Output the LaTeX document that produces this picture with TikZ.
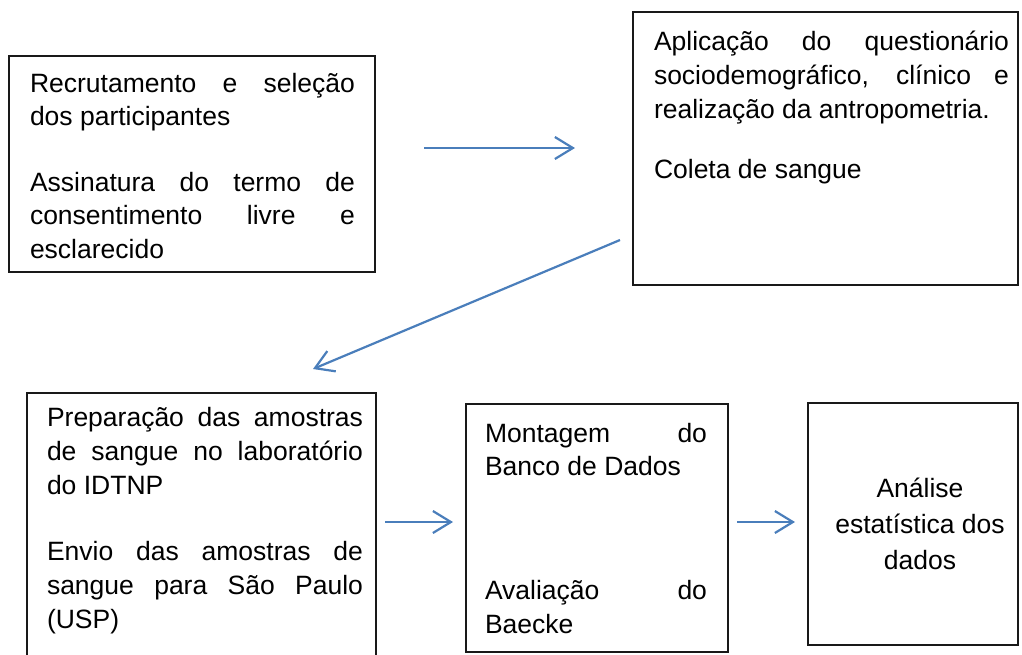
\documentclass[tikz,border=0pt]{standalone}
\usepackage{fontspec}
\setmainfont{Liberation Sans}
\usetikzlibrary{arrows.meta}
\definecolor{arrblue}{HTML}{4A7EBB}
\newcommand\jline[2]{\makebox[#1][s]{#2}}
\tikzset{
  box/.style={draw=black!90, line width=1.3pt, fill=none, inner sep=0pt, outer sep=0pt, anchor=north west},
  txt/.style={inner sep=0pt, outer sep=0pt, anchor=base west, font=\fontsize{26.5}{34}\selectfont},
  ctxt/.style={inner sep=0pt, outer sep=0pt, anchor=base, font=\fontsize{26.5}{34}\selectfont},
  arr/.style={draw=arrblue, line width=2.2pt, -{Straight Barb[length=18pt,width=22pt,line width=2.2pt]}}
}
\begin{document}
\begin{tikzpicture}[x=1pt,y=-1pt]
\useasboundingbox (0,0) rectangle (1022,654);
% boxes
\node[box, minimum width=366pt, minimum height=216pt] (b1) at (9,56) {};
\node[box, minimum width=385pt, minimum height=273pt] (b2) at (633,12) {};
\node[box, minimum width=349pt, minimum height=270pt] (b3) at (27,393) {};
\node[box, minimum width=262pt, minimum height=248pt] (b4) at (466,404) {};
\node[box, minimum width=210pt, minimum height=242pt] (b5) at (808,403) {};
% box 1 text
\node[txt] (t11) at (30,92) {\jline{325pt}{Recrutamento e seleção}};
\node[txt] (t12) at (30,125) {dos participantes};
\node[txt] (t13) at (30,191) {\jline{325pt}{Assinatura do termo de}};
\node[txt] (t14) at (30,224) {\jline{325pt}{consentimento livre e}};
\node[txt] (t15) at (30,258) {esclarecido};
% box 2 text
\node[txt] (t21) at (654,50) {\jline{355pt}{Aplicação do questionário}};
\node[txt] (t22) at (654,84) {\jline{355pt}{sociodemográfico, clínico e}};
\node[txt] (t23) at (654,118) {realização da antropometria.};
\node[txt] (t24) at (654,178) {Coleta de sangue};
% box 3 text
\node[txt] (t31) at (47,426) {\jline{316pt}{Preparação das amostras}};
\node[txt] (t32) at (47,460) {\jline{316pt}{de sangue no laboratório}};
\node[txt] (t33) at (47,494) {do IDTNP};
\node[txt] (t34) at (47,560) {\jline{316pt}{Envio das amostras de}};
\node[txt] (t35) at (47,594) {\jline{316pt}{sangue para São Paulo}};
\node[txt] (t36) at (47,628) {(USP)};
% box 4 text
\node[txt] (t41) at (485,442) {\jline{222pt}{Montagem do}};
\node[txt] (t42) at (485,475) {Banco de Dados};
\node[txt] (t43) at (485,599) {\jline{222pt}{Avaliação do}};
\node[txt] (t44) at (485,633) {Baecke};
% box 5 text
\node[ctxt] (t51) at (920,497) {Análise};
\node[ctxt] (t52) at (920,533) {estatística dos};
\node[ctxt] (t53) at (920,569) {dados};
% arrow ends
\coordinate (a1s) at (424,148);
\coordinate (a1e) at (575,148);
\coordinate (a2s) at (620,240);
\coordinate (a2e) at (313,369);
\coordinate (a3s) at (385,522);
\coordinate (a3e) at (453,522);
\coordinate (a4s) at (737,522);
\coordinate (a4e) at (795,522);
\draw[arr] (a1s) -- (a1e);
\draw[arr] (a2s) -- (a2e);
\draw[arr] (a3s) -- (a3e);
\draw[arr] (a4s) -- (a4e);
\end{tikzpicture}
\end{document}
